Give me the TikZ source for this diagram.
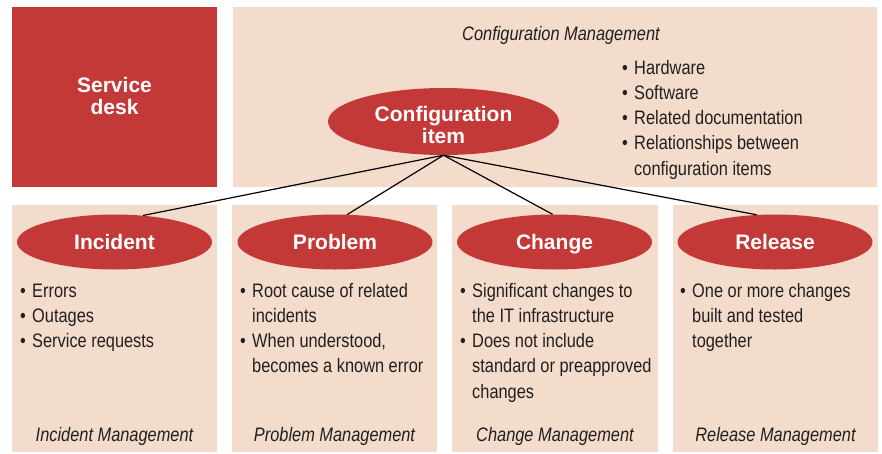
\documentclass[tikz,border=0pt]{standalone}
\usepackage{fontspec}
\setmainfont{Liberation Sans}
\newfontfamily\condfont[FakeStretch=0.84]{Liberation Sans}
\usetikzlibrary{shapes.geometric}
\definecolor{itilred}{RGB}{195,57,55}
\definecolor{peach}{RGB}{243,220,203}
\definecolor{ink}{RGB}{35,31,32}
\newcommand\bul{\makebox[12pt][l]{\textbullet}}
\newcommand\ind{\hspace*{12pt}}
\tikzset{
  peachbox/.style={rectangle, fill=peach, draw=none, inner sep=0pt},
  redbox/.style={rectangle, fill=itilred, draw=none, inner sep=0pt},
  redlabel/.style={inner sep=0pt, text=white, align=center, anchor=base,
    font={\bfseries\fontsize{21}{21.5}\selectfont}},
  redell/.style={ellipse, fill=itilred, draw=none, inner sep=0pt, text=white,
    align=center, font={\bfseries\fontsize{21}{21.5}\selectfont}},
  smallell/.style={redell, minimum width=195pt, minimum height=55pt, text height=15pt, text depth=0pt},
  listtext/.style={inner sep=0pt, align=left, text=ink, anchor=base west,
    font={\condfont\fontsize{19.5}{25.3}\selectfont}},
  mgmt/.style={inner sep=0pt, text=ink, anchor=base,
    font={\condfont\itshape\fontsize{19.5}{25.3}\selectfont}},
  link/.style={draw=black, line width=1.2pt}
}
\begin{document}
\begin{tikzpicture}[x=1pt,y=-1pt]
\useasboundingbox (0,0) rectangle (882,453);
% boxes
\node[redbox, minimum width=205pt, minimum height=180pt] (sd) at (114.5,97) {};
\node[redlabel] (sdl) at (114.5,114) {Service\\desk};
\node[peachbox, minimum width=644pt, minimum height=180pt] (cm) at (555,97) {};
\node[peachbox, minimum width=205pt, minimum height=247pt] (b1) at (114.5,328.5) {};
\node[peachbox, minimum width=205pt, minimum height=247pt] (b2) at (334.5,328.5) {};
\node[peachbox, minimum width=206pt, minimum height=247pt] (b3) at (555,328.5) {};
\node[peachbox, minimum width=205pt, minimum height=247pt] (b4) at (775.5,328.5) {};
% config management
\node[mgmt] (cmt) at (561,40) {Configuration Management};
\node[listtext] (cml) at (622,175.2) {\bul Hardware\\\bul Software\\\bul Related documentation\\\bul Relationships between\\\ind configuration items};
\node[redell, minimum width=231pt, minimum height=67pt] (ci) at (443.5,121.5) {};
\node[redlabel] (cil) at (443.5,143) {Configuration\\item};
% ellipses
\node[smallell] (inc) at (114.5,242) {Incident};
\node[smallell] (prb) at (335,242) {Problem};
\node[smallell] (chg) at (554.5,242) {Change};
\node[smallell] (rel) at (775,242) {Release};
% links
\draw[link] (ci.south) -- (inc.43);
\draw[link] (ci.south) -- (prb.66);
\draw[link] (ci.south) -- (chg.94);
\draw[link] (ci.south) -- (rel.124);
% lists
\node[listtext] (incl) at (20,347.6) {\bul Errors\\\bul Outages\\\bul Service requests};
\node[listtext] (prbl) at (240,372.9) {\bul Root cause of related\\\ind incidents\\\bul When understood,\\\ind becomes a known error};
\node[listtext] (chgl) at (460,398.2) {\bul Significant changes to\\\ind the IT infrastructure\\\bul Does not include\\\ind standard or preapproved\\\ind changes};
\node[listtext] (rell) at (680,347.6) {\bul One or more changes\\\ind built and tested\\\ind together};
% management labels
\node[mgmt] (incm) at (114.5,441) {Incident Management};
\node[mgmt] (prbm) at (334.5,441) {Problem Management};
\node[mgmt] (chgm) at (555,441) {Change Management};
\node[mgmt] (relm) at (775.5,441) {Release Management};
\end{tikzpicture}
\end{document}
